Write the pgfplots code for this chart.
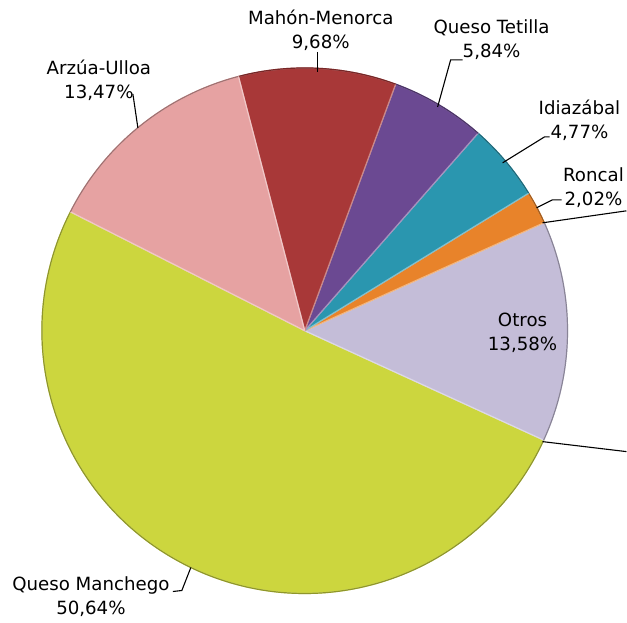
\documentclass[border=0pt]{standalone}
\usepackage{pgfplots}
\pgfplotsset{compat=1.18}
\usepackage{fontspec}
\setmainfont{DejaVu Sans}

\definecolor{manchego}{RGB}{204,214,62}
\definecolor{otros}{RGB}{196,189,216}
\definecolor{roncal}{RGB}{232,131,42}
\definecolor{idiazabal}{RGB}{42,150,175}
\definecolor{tetilla}{RGB}{107,73,146}
\definecolor{mahon}{RGB}{168,56,56}
\definecolor{arzua}{RGB}{230,162,162}

% shares in percent, counter-clockwise from the Manchego edge
\def\pManchego{50.64}
\def\pOtros{13.58}
\def\pRoncal{2.02}
\def\pIdiazabal{4.77}
\def\pTetilla{5.84}
\def\pMahon{9.68}
\def\pArzua{13.47}

\def\R{131.5pt}
\newcommand{\slice}[3]{% start angle, percent, colour
  \fill[#3] (axis cs:305,292) -- ++(#1:\R)
    arc[start angle=#1, delta angle=#2*3.6, radius=\R] -- cycle;
  \draw[#3!60!white, line width=0.6pt, line join=round] (axis cs:305,292) -- ++(#1:\R)
    arc[start angle=#1, delta angle=#2*3.6, radius=\R] -- cycle;
  \draw[#3!70!black, line width=0.6pt] (axis cs:305,292) ++(#1:\R)
    arc[start angle=#1, delta angle=#2*3.6, radius=\R];
}
\tikzset{lbl/.style={font=\fontsize{9.1}{12}\selectfont, align=center, text=black, inner sep=0pt}}

\begin{document}
\begin{tikzpicture}
\pgfmathsetmacro\aManchego{153.1}
\pgfmathsetmacro\aOtros{\aManchego+\pManchego*3.6}
\pgfmathsetmacro\aRoncal{\aOtros+\pOtros*3.6}
\pgfmathsetmacro\aIdiazabal{\aRoncal+\pRoncal*3.6}
\pgfmathsetmacro\aTetilla{\aIdiazabal+\pIdiazabal*3.6}
\pgfmathsetmacro\aMahon{\aTetilla+\pTetilla*3.6}
\pgfmathsetmacro\aArzua{\aMahon+\pMahon*3.6}
\begin{axis}[
  width=313.5pt, height=311.5pt,
  scale only axis,
  xmin=0, xmax=627, ymin=0, ymax=623,
  hide axis,
  clip=false,
]
\path (axis cs:0,0) rectangle (axis cs:627,623);

\slice{\aManchego}{\pManchego}{manchego}
\slice{\aOtros}{\pOtros}{otros}
\slice{\aRoncal}{\pRoncal}{roncal}
\slice{\aIdiazabal}{\pIdiazabal}{idiazabal}
\slice{\aTetilla}{\pTetilla}{tetilla}
\slice{\aMahon}{\pMahon}{mahon}
\slice{\aArzua}{\pArzua}{arzua}

% leader lines
\draw[line width=0.55pt] (axis cs:318,571) -- (axis cs:318,551);
\draw[line width=0.55pt] (axis cs:463,563) -- (axis cs:451,563) -- (axis cs:438,516);
\draw[line width=0.55pt] (axis cs:550,486) -- (axis cs:545,486) -- (axis cs:503,460);
\draw[line width=0.55pt] (axis cs:562,423) -- (axis cs:553,423) -- (axis cs:537,415);
\draw[line width=0.55pt] (axis cs:543,400) -- (axis cs:627,412);
\draw[line width=0.55pt] (axis cs:543,181) -- (axis cs:627,171);
\draw[line width=0.55pt] (axis cs:133,529) -- (axis cs:138,495);
\draw[line width=0.55pt] (axis cs:173,31) -- (axis cs:182,32) -- (axis cs:191,55);

% labels
\node[lbl] at (axis cs:321,593) {Mahón-Menorca\\9,68\%};
\node[lbl] at (axis cs:492,583) {Queso Tetilla\\5,84\%};
\node[lbl] at (axis cs:580,503) {Idiazábal\\4,77\%};
\node[lbl] at (axis cs:594,435) {Roncal\\2,02\%};
\node[lbl] at (axis cs:523,290) {Otros\\13,58\%};
\node[lbl] at (axis cs:99,543) {Arzúa-Ulloa\\13,47\%};
\node[lbl] at (axis cs:91,26) {Queso Manchego\\50,64\%};
\end{axis}
\end{tikzpicture}
\end{document}
